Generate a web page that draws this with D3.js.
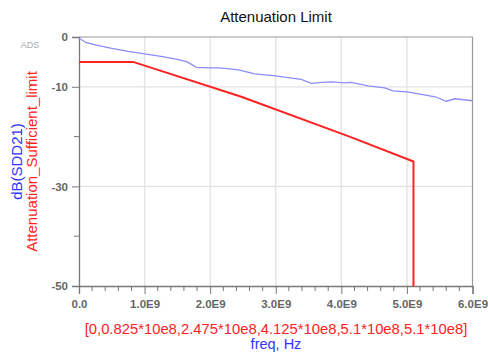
<!DOCTYPE html>
<html>
<head>
<meta charset="utf-8">
<script src="https://cdn.jsdelivr.net/npm/d3@7"></script>
<style>
  body { margin: 0; background: #fff; }
  text { font-family: Arial, "Liberation Sans", sans-serif; }
</style>
</head>
<body>
<div id="chart"></div>
<script>
// -- Data ----------------------------------------------------
// limit mask (freq in Hz, dB)
const limitFreq = [0, 0.825e9, 2.475e9, 4.125e9, 5.1e9, 5.1e9];
const limitDb = [-5, -5, -12, -20, -25, -50];

const sddFreq = [0, 0.1e9, 0.25e9, 0.5e9, 0.75e9, 1.0e9, 1.25e9, 1.5e9, 1.65e9, 1.79e9, 2.0e9,
  2.1e9, 2.23e9, 2.43e9, 2.68e9, 3.0e9, 3.16e9, 3.39e9, 3.54e9, 3.7e9, 3.85e9, 4.05e9,
  4.15e9, 4.41e9, 4.66e9, 4.79e9, 5.0e9, 5.22e9, 5.43e9, 5.6e9, 5.73e9, 6.0e9];
const sddDb = [-0.2, -1.1, -1.6, -2.3, -2.9, -3.4, -3.9, -4.5, -5.0, -6.1, -6.2,
  -6.2, -6.3, -6.6, -7.4, -7.8, -8.1, -8.5, -9.3, -9.1, -9.0, -9.2,
  -9.1, -9.8, -10.2, -10.8, -11.0, -11.5, -12.0, -12.9, -12.4, -12.8];

const xTicks = [0, 1e9, 2e9, 3e9, 4e9, 5e9, 6e9];
const xTickLabels = ["0.0", "1.0E9", "2.0E9", "3.0E9", "4.0E9", "5.0E9", "6.0E9"];
const yTicks = [0, -10, -30, -50];
const yTickLabels = ["0", "-10", "-30", "-50"];
const yMinorTicks = [-20, -40];

// -- Layout --------------------------------------------------
const W = 488, H = 356;
const m = { left: 79, right: 15.5, top: 37, bottom: 70 };

const svg = d3.select("#chart").append("svg")
  .attr("width", W).attr("height", H);

const x = d3.scaleLinear().domain([0, 6e9]).range([m.left, W - m.right]);
const y = d3.scaleLinear().domain([-50, 0]).range([H - m.bottom, m.top]);

// grid
svg.append("g").selectAll("line").data(xTicks.slice(1, -1)).join("line")
  .attr("x1", d => x(d)).attr("x2", d => x(d))
  .attr("y1", y(0)).attr("y2", y(-50))
  .attr("stroke", "#e2e2e2").attr("stroke-width", 1.3);
svg.append("g").selectAll("line").data([-10, -30]).join("line")
  .attr("x1", x(0)).attr("x2", x(6e9))
  .attr("y1", d => y(d)).attr("y2", d => y(d))
  .attr("stroke", "#e2e2e2").attr("stroke-width", 1.3);

// frame top / right
svg.append("path")
  .attr("d", `M${x(0)},${y(0)}H${x(6e9)}V${y(-50)}`)
  .attr("fill", "none").attr("stroke", "#9a9a9a").attr("stroke-width", 1.2);

// x axis with minor ticks
const xAxis = d3.axisBottom(x).tickValues(xTicks)
  .tickFormat((d, i) => xTickLabels[i]).tickSize(8).tickPadding(6);
const gx = svg.append("g").attr("transform", `translate(0,${y(-50)})`).call(xAxis);
gx.append("g").selectAll("line").data(d3.range(0, 6e9, 0.2e9).filter((d, i) => i % 5 !== 0))
  .join("line")
  .attr("x1", d => x(d)).attr("x2", d => x(d)).attr("y1", 0).attr("y2", 5)
  .attr("stroke", "#777");

// y axis
const yAxis = d3.axisLeft(y).tickValues(yTicks)
  .tickFormat((d, i) => yTickLabels[i]).tickSize(7).tickPadding(4);
const gy = svg.append("g").attr("transform", `translate(${x(0)},0)`).call(yAxis);
gy.append("g").selectAll("line").data(yMinorTicks).join("line")
  .attr("x1", -5).attr("x2", 0).attr("y1", d => y(d)).attr("y2", d => y(d))
  .attr("stroke", "#777");

[gx, gy].forEach(g => {
  g.select(".domain").attr("stroke", "#777").attr("stroke-width", 1.3);
  g.selectAll(".tick line").attr("stroke", "#777");
  g.selectAll(".tick text")
    .attr("fill", "#666").attr("font-size", 11.5).attr("font-weight", "bold")
    .style("font-family", "Arial, 'Liberation Sans', sans-serif");
});

// -- Series --------------------------------------------------
const clipId = "plotclip";
svg.append("clipPath").attr("id", clipId).append("rect")
  .attr("x", x(0)).attr("y", y(0) - 2).attr("width", x(6e9) - x(0)).attr("height", y(-50) - y(0) + 2);

const line = d3.line().x(d => x(d[0])).y(d => y(d[1]));
svg.append("path")
  .datum(d3.zip(sddFreq, sddDb))
  .attr("clip-path", `url(#${clipId})`)
  .attr("d", line)
  .attr("fill", "none").attr("stroke", "#8c8cff").attr("stroke-width", 1.3);

svg.append("path")
  .datum(d3.zip(limitFreq, limitDb))
  .attr("d", line)
  .attr("fill", "none").attr("stroke", "#ff2222").attr("stroke-width", 2)
  .attr("stroke-linejoin", "miter");

// -- Text ----------------------------------------------------
svg.append("text").attr("x", 276).attr("y", 22)
  .attr("text-anchor", "middle").attr("font-size", 15).attr("fill", "#111")
  .text("Attenuation Limit");

svg.append("text").attr("x", 30).attr("y", 48)
  .attr("text-anchor", "middle").attr("font-size", 9).attr("fill", "#aaa")
  .text("ADS");

svg.append("text")
  .attr("transform", `translate(22,${y(-25)}) rotate(-90)`)
  .attr("text-anchor", "middle").attr("font-size", 15).attr("fill", "#3333ff")
  .text("dB(SDD21)");
svg.append("text")
  .attr("transform", `translate(37,${y(-25)}) rotate(-90)`)
  .attr("text-anchor", "middle").attr("font-size", 15).attr("fill", "#ff2222")
  .text("Attenuation_Sufficient_limit");

svg.append("text").attr("x", 276).attr("y", 334)
  .attr("text-anchor", "middle").attr("font-size", 14.8).attr("fill", "#ff2222")
  .text("[0,0.825*10e8,2.475*10e8,4.125*10e8,5.1*10e8,5.1*10e8]");
svg.append("text").attr("x", 276).attr("y", 349)
  .attr("text-anchor", "middle").attr("font-size", 14.5).attr("fill", "#3333ff")
  .text("freq, Hz");
</script>
</body>
</html>
